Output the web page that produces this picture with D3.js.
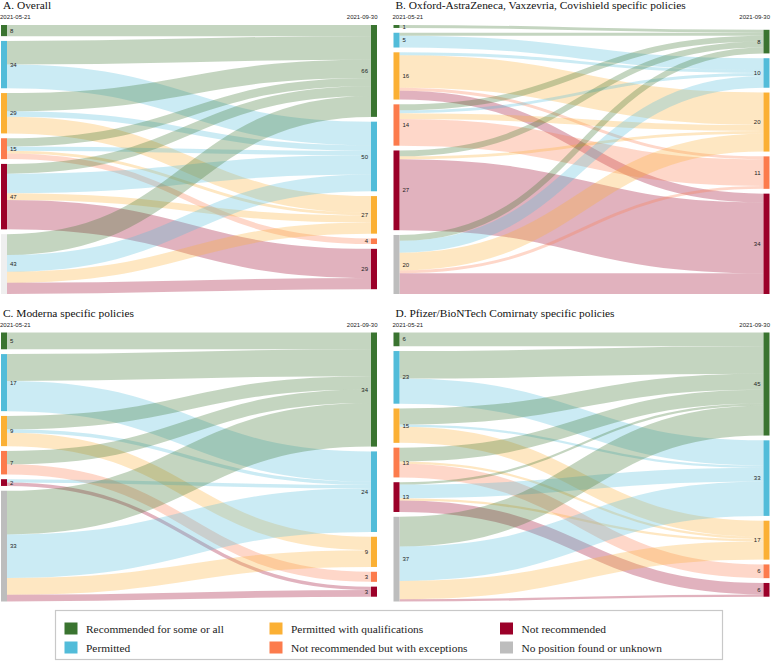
<!DOCTYPE html>
<html>
<head>
<meta charset="utf-8">
<script src="https://cdn.jsdelivr.net/npm/d3@7"></script>
<style>
  body { margin: 0; background: #fff; }
  .title { font-family: "Times New Roman", Times, "Liberation Serif", "DejaVu Serif", serif; font-size: 11.4px; fill: #111; }
  .small { font-family: "Liberation Sans", Arial, sans-serif; font-size: 6px; fill: #222; }
  .legend text { font-family: "Times New Roman", Times, "Liberation Serif", "DejaVu Serif", serif; font-size: 11.4px; fill: #222; }
</style>
</head>
<body>
<svg id="chart" width="771" height="661"></svg>
<script>
// policy categories, same order on both dates
var categories = ["Recommended for some or all", "Permitted", "Permitted with qualifications",
    "Not recommended but with exceptions", "Not recommended", "No position found or unknown"];
var colors = ["#3a7430", "#52bcd9", "#fbb034", "#fc7b4c", "#9b0029", "#bdbdbd"];
var dates = ["2021-05-21", "2021-09-30"];

// rows = position on 2021-05-21, columns = position on 2021-09-30 (same category order)
var flowsOverall = [
    [8, 0, 0, 0, 0, 0],
    [17, 17, 0, 0, 0, 0],
    [13, 4, 12, 0, 0, 0],
    [6, 3, 2, 4, 0, 0],
    [7, 14, 5, 0, 21, 0],
    [15, 12, 8, 0, 8, 0]
];
var flowsAstra = [
    [1, 0, 0, 0, 0, 0],
    [1, 4, 0, 0, 0, 0],
    [0, 1, 11, 1, 3, 0],
    [2, 1, 2, 9, 0, 0],
    [2, 0, 1, 0, 24, 0],
    [2, 4, 6, 1, 7, 0]
];
var flowsModerna = [
    [5, 0, 0, 0, 0, 0],
    [8, 9, 0, 0, 0, 0],
    [4, 1, 4, 0, 0, 0],
    [4, 0, 0, 3, 0, 0],
    [0, 1, 0, 0, 1, 0],
    [13, 13, 5, 0, 2, 0]
];
var flowsPfizer = [
    [6, 0, 0, 0, 0, 0],
    [12, 11, 0, 0, 0, 0],
    [7, 1, 7, 0, 0, 0],
    [6, 0, 1, 6, 0, 0],
    [1, 6, 1, 0, 5, 0],
    [13, 15, 8, 0, 1, 0]
];
var titles = ["A. Overall", "B. Oxford-AstraZeneca, Vaxzevria, Covishield specific policies",
    "C. Moderna specific policies", "D. Pfizer/BioNTech Comirnaty specific policies"];

var panels = [
    { title: titles[0], flows: flowsOverall, x: 1, top: 25, alignRight: "top", fadedUnknown: true },
    { title: titles[1], flows: flowsAstra, x: 393.5, top: 25, alignRight: "bottom" },
    { title: titles[2], flows: flowsModerna, x: 1, top: 332.5, alignRight: "top" },
    { title: titles[3], flows: flowsPfizer, x: 393.5, top: 332.5, alignRight: "top" }
];

var svg = d3.select("#chart");

var drawSankey = function (panel) {
    var width = 376, height = 269, nodeWidth = 6, padding = 4.8;
    var g = svg.append("g")
        .attr("transform", "translate(" + panel.x + "," + panel.top + ")");

    var leftTotals = panel.flows.map(function (row) { return d3.sum(row); });
    var rightTotals = categories.map(function (c, j) {
        return d3.sum(panel.flows, function (row) { return row[j]; });
    });
    var total = d3.sum(leftTotals);

    var makeNodes = function (totals, x) {
        return totals.map(function (v, i) { return { cat: i, value: v, x: x }; })
            .filter(function (d) { return d.value > 0; });
    };
    var leftNodes = makeNodes(leftTotals, 0);
    var rightNodes = makeNodes(rightTotals, width - nodeWidth);
    var maxCount = Math.max(leftNodes.length, rightNodes.length);

    // vertical scale shared by nodes and links
    var ky = d3.scaleLinear()
        .domain([0, total])
        .range([0, height - (maxCount - 1) * padding]);

    var stack = function (nodes, align) {
        var used = ky(total) + (nodes.length - 1) * padding;
        var y = align === "bottom" ? height - used : 0;
        nodes.forEach(function (d) {
            d.y0 = y;
            d.y1 = y + ky(d.value);
            d.offset = d.y0;
            y = d.y1 + padding;
        });
    };
    stack(leftNodes, "top");
    stack(rightNodes, panel.alignRight);

    var rightByCat = {};
    rightNodes.forEach(function (d) { rightByCat[d.cat] = d; });

    var links = [];
    leftNodes.forEach(function (s) {
        panel.flows[s.cat].forEach(function (v, j) {
            if (v > 0) {
                var t = rightByCat[j];
                var w = ky(v);
                links.push({ target: j, width: w, ys: s.offset + w / 2, yt: t.offset + w / 2 });
                s.offset += w;
                t.offset += w;
            }
        });
    });

    var linkPath = d3.linkHorizontal();
    g.append("g")
        .attr("fill", "none")
        .selectAll("path")
        .data(links)
        .enter()
        .append("path")
        .attr("d", function (d) {
            return linkPath({ source: [nodeWidth, d.ys], target: [width - nodeWidth, d.yt] });
        })
        .attr("stroke", function (d) { return colors[d.target]; })
        .attr("stroke-opacity", 0.3)
        .attr("stroke-width", function (d) { return Math.max(0.8, d.width); });

    var allNodes = leftNodes.concat(rightNodes);
    g.append("g")
        .selectAll("rect")
        .data(allNodes)
        .enter()
        .append("rect")
        .attr("x", function (d) { return d.x; })
        .attr("y", function (d) { return d.y0; })
        .attr("width", nodeWidth)
        .attr("height", function (d) { return Math.max(1, d.y1 - d.y0); })
        .attr("fill", function (d) {
            if (panel.fadedUnknown && d.cat === 5) return "#efefef";
            return colors[d.cat];
        });

    g.append("g")
        .selectAll("text")
        .data(allNodes)
        .enter()
        .append("text")
        .attr("class", "small")
        .attr("x", function (d) { return d.x === 0 ? nodeWidth + 3 : d.x - 3; })
        .attr("y", function (d) { return (d.y0 + d.y1) / 2; })
        .attr("dy", "0.35em")
        .attr("text-anchor", function (d) { return d.x === 0 ? "start" : "end"; })
        .text(function (d) { return d.value; });

    // dates above each column
    g.append("text").attr("class", "small")
        .attr("x", -1).attr("y", -6).attr("font-size", "5.6px")
        .text(dates[0]);
    g.append("text").attr("class", "small")
        .attr("x", width + 0.5).attr("y", -6).attr("font-size", "5.6px")
        .attr("text-anchor", "end")
        .text(dates[1]);

    g.append("text").attr("class", "title")
        .attr("x", 2).attr("y", -16)
        .text(panel.title);
};

panels.forEach(drawSankey);

// legend
var legend = svg.append("g").attr("class", "legend");
legend.append("rect")
    .attr("x", 55.5).attr("y", 610.5)
    .attr("width", 667).attr("height", 49)
    .attr("fill", "#fff")
    .attr("stroke", "#c8c8c8")
    .attr("stroke-width", 1.2);

var legendCols = [64.5, 269.5, 500];
var item = legend.selectAll(".item")
    .data(categories)
    .enter()
    .append("g")
    .attr("class", "item")
    .attr("transform", function (d, i) {
        return "translate(" + legendCols[Math.floor(i / 2)] + "," + (622.5 + (i % 2) * 19) + ")";
    });
item.append("rect")
    .attr("width", 13)
    .attr("height", 12)
    .attr("fill", function (d, i) { return colors[i]; });
item.append("text")
    .attr("x", 21.5)
    .attr("y", 10)
    .text(function (d) { return d; });
</script>
</body>
</html>
